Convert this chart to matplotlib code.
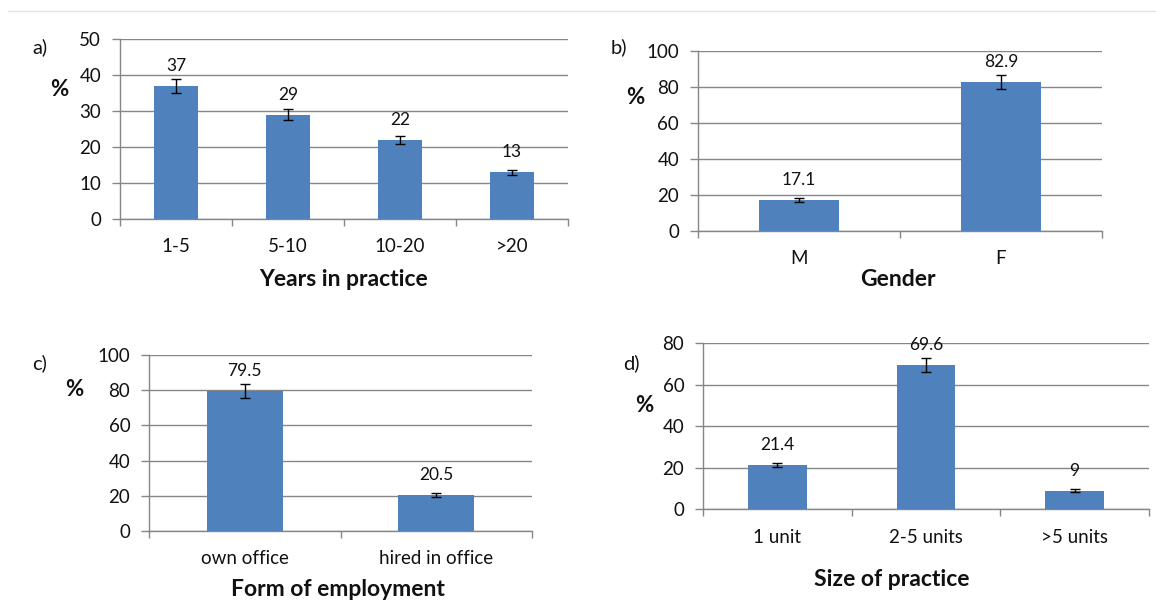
import matplotlib
matplotlib.use('Agg')
import matplotlib.pyplot as plt
from matplotlib.lines import Line2D
import numpy as np

plt.rcParams['font.family'] = ['Lato', 'DejaVu Sans']

W, H = 1156, 605

# ---- data ----
years_cats = ['1-5', '5-10', '10-20', '>20']
years_vals = [37, 29, 22, 13]
years_err = [2.0, 1.5, 1.0, 0.7]

gender_cats = ['M', 'F']
gender_vals = [17.1, 82.9]
gender_err = [1.0, 4.0]

employ_cats = ['own office', 'hired in office']
employ_vals = [79.5, 20.5]
employ_err = [3.9, 1.2]

size_cats = ['1 unit', '2-5 units', '>5 units']
size_vals = [21.4, 69.6, 9]
size_err = [1.1, 3.5, 0.7]

BAR = '#4F81BD'
GRID = '#868686'
TXT = '#111111'

fig = plt.figure(figsize=(W / 100, H / 100), dpi=100)
fig.patch.set_facecolor('white')

# faint page line at the top
fig.add_artist(Line2D([8 / W, 1.0], [1 - 11 / H, 1 - 11 / H], color='#dfe4ea', lw=1))


def fx(px):
    return px / W


def fy(py):
    return 1 - py / H


def panel(rect_px, cats, vals, errs, ymax, ystep, letter, letter_xy, pct_xy, xlabel, xlabel_xy):
    l, t, r, b = rect_px
    ax = fig.add_axes([fx(l), fy(b), (r - l) / W, (b - t) / H])
    x = np.arange(len(cats))
    ax.bar(x, vals, width=0.396, color=BAR, zorder=3)
    ax.errorbar(x, vals, yerr=errs, fmt='none', ecolor='black', elinewidth=1.0,
                capsize=3.5, capthick=1.0, zorder=4)
    for xi, v in zip(x, vals):
        ax.annotate(f'{v:g}', (xi, v), xytext=(0, 10.8), textcoords='offset points',
                    ha='center', va='baseline', fontsize=12.5, color=TXT)
    ax.set_xlim(-0.5, len(cats) - 0.5)
    ax.set_ylim(0, ymax)
    ax.set_yticks(np.arange(0, ymax + 0.01, ystep))
    ax.yaxis.grid(True, color=GRID, lw=1.0)
    ax.set_axisbelow(True)
    for s in ['top', 'right']:
        ax.spines[s].set_visible(False)
    for s in ['left', 'bottom']:
        ax.spines[s].set_color(GRID)
        ax.spines[s].set_linewidth(1.0)
    ax.set_xticks(np.arange(-0.5, len(cats)), labels=[''] * (len(cats) + 1))
    ax.set_xticks(x, cats, minor=True)
    ax.tick_params(axis='x', which='major', length=4.8, direction='out', color=GRID, width=1.0)
    ax.tick_params(axis='x', which='minor', length=0, pad=14, labelsize=13.5, labelcolor=TXT)
    ax.tick_params(axis='y', length=6, direction='out', color=GRID, width=1.0,
                   pad=7.5, labelsize=13.5, labelcolor=TXT)
    fig.text(fx(letter_xy[0]), fy(letter_xy[1]), letter, fontsize=14.5, ha='center', va='center',
             color=TXT)
    fig.text(fx(pct_xy[0]), fy(pct_xy[1]), '%', fontsize=16, fontweight='bold', ha='center',
             va='center', color=TXT)
    fig.text(fx(xlabel_xy[0]), fy(xlabel_xy[1]), xlabel, fontsize=16.5, fontweight='bold',
             ha='center', va='center', color=TXT)
    return ax


panel((120, 39.3, 568, 219), years_cats, years_vals, years_err, 50, 10,
      'a)', (40, 47), (59, 90), 'Years in practice', (344, 280))
panel((698, 51, 1102, 231), gender_cats, gender_vals, gender_err, 100, 20,
      'b)', (619, 47), (635, 97), 'Gender', (898, 279))
panel((149, 355, 532, 531), employ_cats, employ_vals, employ_err, 100, 20,
      'c)', (40, 363), (74, 390), 'Form of employment', (338, 590))
panel((703, 343.3, 1149, 509.3), size_cats, size_vals, size_err, 80, 20,
      'd)', (631, 363), (644, 406), 'Size of practice', (892, 579))

fig.savefig('out.png', dpi=100, facecolor='white')
